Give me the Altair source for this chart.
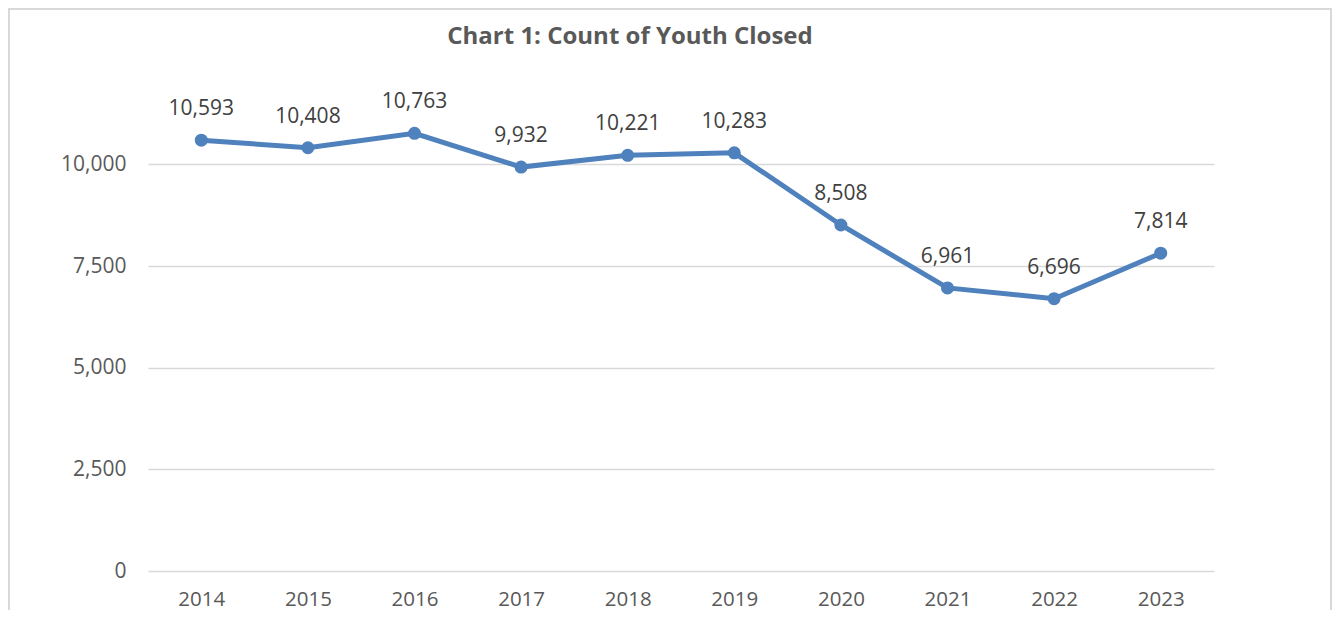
import altair as alt
import pandas as pd

years = ["2014", "2015", "2016", "2017", "2018", "2019", "2020", "2021", "2022", "2023"]
counts = [10593, 10408, 10763, 9932, 10221, 10283, 8508, 6961, 6696, 7814]
y_ticks = [0, 2500, 5000, 7500, 10000]
title_text = "Chart 1: Count of Youth Closed"

df = pd.DataFrame({"year": years, "count": counts})

W, H = 1066, 488
PAD_L, PAD_T, PAD_R, PAD_B = 140, 75, 119, 39
FONT = "Open Sans"
FS = 21

x_enc = alt.X("year:O", scale=alt.Scale(type="point", padding=0.5),
              axis=alt.Axis(title=None, labelAngle=0, labelFontSize=20.5, labelFont=FONT,
                            labelColor="#595959", labelPadding=18, ticks=False,
                            domain=False, grid=False))
y_enc = alt.Y("count:Q", scale=alt.Scale(domain=[0, 12000], nice=False, zero=True),
              axis=alt.Axis(title=None, values=y_ticks, format=",.0f", labelFontSize=FS,
                            labelFont=FONT, labelColor="#595959", labelPadding=22,
                            ticks=False, domain=False, grid=True, gridColor="#D9D9D9",
                            gridWidth=1.5))

base = alt.Chart(df).encode(x=x_enc, y=y_enc)

line = base.mark_line(color="#4F81BD", strokeWidth=5)
points = base.mark_point(filled=True, color="#4F81BD", size=170, opacity=1)
labels = base.mark_text(dy=-31, fontSize=FS, font=FONT, color="#404040",
                        baseline="middle").encode(text=alt.Text("count:Q", format=",.0f"))

deco = pd.DataFrame({"t": [title_text]})
frame = alt.Chart(deco).mark_rect(
    fill=None, stroke="#D9D9D9", strokeWidth=2
).encode(
    x=alt.value(-PAD_L + 1), x2=alt.value(W + PAD_R - 2),
    y=alt.value(-PAD_T + 1), y2=alt.value(H + PAD_B + 40)
)
title = alt.Chart(deco).mark_text(
    fontSize=24, font=FONT, fontWeight="bold", color="#595959",
    align="center", baseline="alphabetic"
).encode(x=alt.value(482), y=alt.value(-38.7), text="t:N")

chart = alt.layer(frame, line, points, labels, title).properties(
    width=W, height=H,
    autosize=alt.AutoSizeParams(type="none"),
    padding={"left": PAD_L, "top": PAD_T, "right": PAD_R, "bottom": PAD_B},
).configure_view(stroke=None)

chart.save("out.html", embed_options={"renderer": "svg", "actions": False})
